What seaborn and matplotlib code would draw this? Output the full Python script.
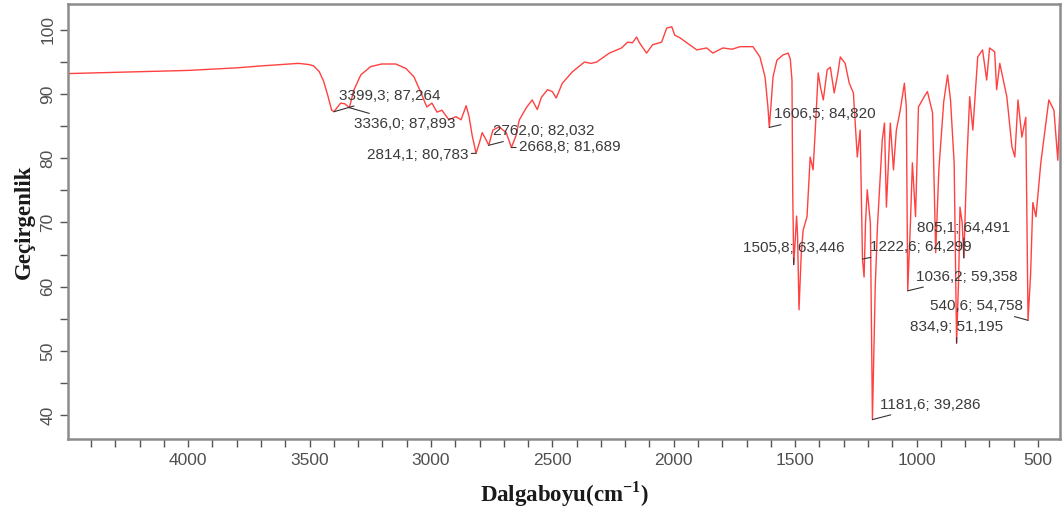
import numpy as np
import pandas as pd
import matplotlib
matplotlib.use("Agg")
import matplotlib.pyplot as plt
import seaborn as sns
from matplotlib.ticker import MultipleLocator

# ---- data ----
wavenumber = [4500, 4400, 4300, 4200, 4100, 4000, 3900, 3800, 3700, 3620, 3545, 3500, 3483,
              3460, 3442, 3425, 3409, 3399.3, 3385, 3372, 3355, 3336.0, 3318, 3289, 3248, 3203,
              3145, 3103, 3070, 3041, 3017, 2996, 2975, 2955, 2926, 2897, 2876, 2855, 2843,
              2830, 2814.1, 2800, 2789, 2773, 2762.0, 2745, 2719, 2690, 2668.8, 2650, 2636,
              2607, 2583, 2562, 2545, 2520, 2500, 2484, 2459, 2417, 2368, 2340, 2318, 2265,
              2215, 2190, 2170, 2153, 2141, 2112, 2087, 2050, 2029, 2008, 1996, 1975, 1946,
              1905, 1864, 1839, 1798, 1760, 1727, 1674, 1645, 1624, 1612, 1606.5, 1598, 1591,
              1575, 1550, 1529, 1520, 1513, 1510, 1505.8, 1500, 1494, 1490, 1484, 1475, 1467,
              1451, 1438, 1426, 1417, 1405, 1395, 1384, 1368, 1355, 1339, 1325, 1314, 1294,
              1277, 1260, 1244, 1232, 1222.6, 1216, 1210, 1203, 1190, 1181.6, 1170, 1161,
              1141, 1132, 1124, 1108, 1095, 1083, 1067, 1050, 1042, 1036.2, 1025, 1017, 1004,
              992, 970, 955, 934, 921, 908, 888, 872, 860, 845, 834.9, 826, 821, 812, 805.1,
              793, 781, 768, 748, 728, 711, 699, 678, 670, 657, 628, 607, 595, 582, 566, 550,
              540.6, 530, 521, 508, 488, 455, 434, 418, 405, 400]
transmittance = [93.2, 93.3, 93.4, 93.5, 93.6, 93.7, 93.9, 94.1, 94.4, 94.6, 94.8, 94.6, 94.4,
                 93.5, 92.0, 89.8, 87.5, 87.264, 88.0, 88.6, 88.5, 87.893, 90.6, 93.0, 94.3, 94.7,
                 94.7, 94.0, 92.7, 90.2, 88.0, 88.6, 87.2, 87.5, 86.0, 86.5, 86.0, 88.2, 86.5,
                 83.5, 80.783, 82.5, 84.0, 82.9, 82.032, 84.4, 84.9, 84.0, 81.689, 83.5, 86.0,
                 87.9, 89.1, 87.6, 89.5, 90.7, 90.4, 89.4, 91.7, 93.5, 95.0, 94.8, 95.0, 96.4,
                 97.2, 98.1, 98.0, 98.9, 98.0, 96.4, 97.7, 98.1, 100.3, 100.5, 99.2, 98.8, 98.0,
                 96.9, 97.2, 96.4, 97.2, 97.0, 97.4, 97.4, 95.8, 92.7, 88.0, 84.82, 89.0, 92.7,
                 95.3, 96.1, 96.4, 95.5, 92.2, 75.0, 63.446, 67.0, 71.0, 68.0, 56.4, 65.0, 68.8,
                 70.9, 80.2, 78.2, 84.4, 93.3, 91.0, 89.1, 93.8, 94.2, 90.2, 93.0, 95.8, 94.8,
                 91.7, 90.2, 80.2, 84.4, 64.299, 61.5, 70.0, 75.1, 69.9, 39.286, 60.0, 69.3,
                 82.9, 85.5, 72.4, 85.5, 78.2, 84.4, 87.5, 91.7, 88.0, 59.358, 70.0, 79.3, 70.9,
                 88.0, 89.5, 90.4, 87.1, 65.3, 78.2, 88.8, 93.0, 89.1, 79.3, 51.195, 62.0, 72.4, 70.0, 64.491,
                 79.3, 89.6, 84.4, 95.8, 96.9, 92.2, 97.2, 96.6, 90.7, 94.8, 89.6, 81.8, 80.2, 89.1, 83.3, 86.4,
                 54.758, 62.0, 73.1, 70.9, 79.3, 89.1, 87.5, 79.7, 92.2, 93.3]

peak_wn = [3399.3, 3336.0, 2814.1, 2762.0, 2668.8, 1606.5, 1505.8, 1222.6, 805.1, 1036.2, 540.6, 834.9, 1181.6]
peak_t = [87.264, 87.893, 80.783, 82.032, 81.689, 84.820, 63.446, 64.299, 64.491, 59.358, 54.758, 51.195, 39.286]
peak_labels = ["3399,3; 87,264", "3336,0; 87,893", "2814,1; 80,783", "2762,0; 82,032",
               "2668,8; 81,689", "1606,5; 84,820", "1505,8; 63,446", "1222,6; 64,299",
               "805,1; 64,491", "1036,2; 59,358", "540,6; 54,758", "834,9; 51,195",
               "1181,6; 39,286"]
# label placement (pixel offsets, alignment)
label_off = [(5, 16, 'left'), (5, -16, 'left'), (-8, -2, 'right'), (4, 14, 'left'),
             (8, 0, 'left'), (5, 13, 'left'), (0, 17, 'center'), (8, 12, 'left'),
             (0, 30, 'center'), (8, 14, 'left'), (-5, 14, 'right'), (0, 16, 'center'),
             (8, 15, 'left')]

df = pd.DataFrame({"wn": wavenumber, "T": transmittance})

sns.set_style("ticks")
plt.rcParams['font.family'] = ['Liberation Sans', 'DejaVu Sans']
plt.rcParams['mathtext.fontset'] = 'custom'
plt.rcParams['mathtext.rm'] = 'Liberation Serif:bold'
plt.rcParams['mathtext.bf'] = 'Liberation Serif:bold'

W, H = 1064, 518
left, right, top, bottom = 68, 1060, 4, 439
fig = plt.figure(figsize=(W / 100, H / 100), dpi=100)
ax = fig.add_axes([left / W, 1 - bottom / H, (right - left) / W, (bottom - top) / H])

sns.lineplot(data=df, x="wn", y="T", ax=ax, color="#ff2020", lw=1.0, sort=False,
             estimator=None, alpha=0.85)

ax.set_xlim(4495, 409)
ax.set_ylim(36.26, 104.05)

ax.xaxis.set_major_locator(MultipleLocator(500))
ax.xaxis.set_minor_locator(MultipleLocator(100))
ax.yaxis.set_major_locator(MultipleLocator(10))
ax.yaxis.set_minor_locator(MultipleLocator(5))
ax.tick_params(axis='both', which='both', direction='out', length=6, width=1.0,
               color='#555555', labelcolor='#505050', labelsize=12.5)
ax.tick_params(axis='y', which='major', labelrotation=90)
for lab in ax.get_yticklabels():
    lab.set_va('center')
ax.tick_params(axis='x', pad=4)
ax.tick_params(axis='y', pad=3)

for s in ax.spines.values():
    s.set_visible(True)
    s.set_color('#8c8c8c')
    s.set_linewidth(1.8)

ax.set_xlabel(r"Dalgaboyu(cm$^{\mathbf{-1}}$)", family='Liberation Serif', fontweight='bold',
              fontsize=16.5, color='#1a1a1a', labelpad=8)
ax.set_ylabel("Geçirgenlik", family='Liberation Serif', fontweight='bold', fontsize=16.5,
              color='#1a1a1a', labelpad=4)

for x, y, txt, (dx, dy, ha) in zip(peak_wn, peak_t, peak_labels, label_off):
    ax.annotate(txt, xy=(x, y), xytext=(dx, dy), textcoords='offset pixels',
                ha=ha, va='center', fontsize=11, color='#3a3a3a',
                arrowprops=dict(arrowstyle='-', color='#333333', lw=0.8,
                                shrinkA=0, shrinkB=0))

fig.savefig("out.png", dpi=100)
